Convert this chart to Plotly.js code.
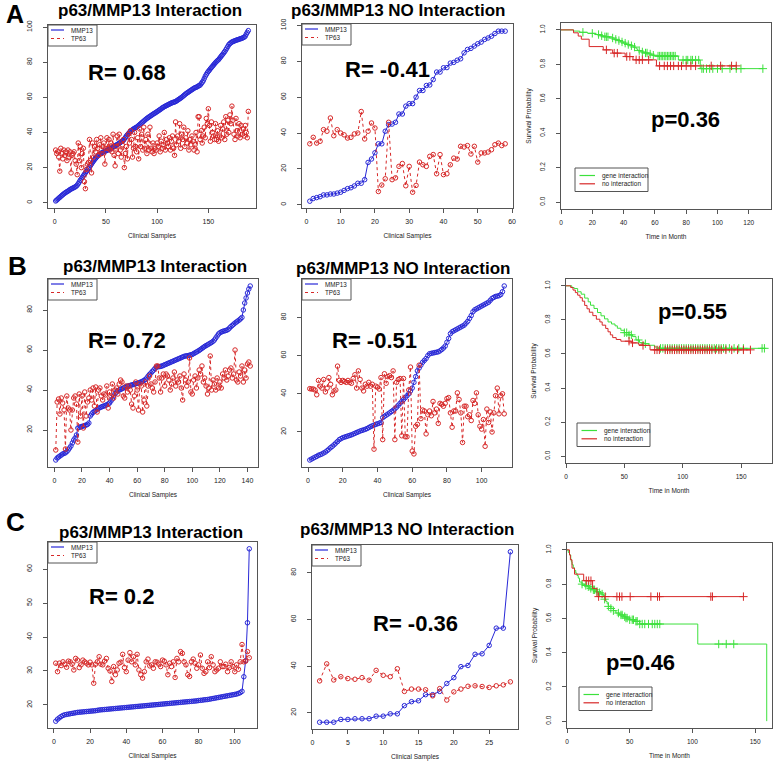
<!DOCTYPE html>
<html><head><meta charset="utf-8">
<script src="https://cdn.plot.ly/plotly-3.0.1.min.js"></script>
<style>html,body{margin:0;padding:0;background:#fff}#chart{width:778px;height:762px}</style>
</head><body><div id="chart"></div>
<script>
// ---------------- DATA ----------------
// Row A (left): interaction, 189 samples
const a1_mmp13 = [1.0,1.5,2.0,2.6,3.0,3.6,4.1,4.6,5.1,5.5,
5.9,6.3,6.6,7.0,7.5,7.8,8.1,8.4,8.7,9.0,
9.4,10.0,10.8,11.8,12.8,13.6,14.5,15.3,16.2,17.0,
17.8,18.6,19.4,20.3,21.2,22.1,23.0,23.8,24.6,25.3,
26.0,26.6,27.1,27.6,28.0,28.4,28.7,29.0,29.3,29.5,
29.8,30.1,30.4,30.7,31.0,31.3,31.7,32.0,32.4,32.8,
33.1,33.5,33.9,34.3,34.7,35.1,35.5,36.3,37.1,38.0,
38.7,39.4,40.0,40.6,41.1,41.6,42.0,42.4,42.7,43.0,
43.5,44.0,44.5,45.0,45.5,46.0,46.5,47.0,47.5,48.0,
48.4,48.8,49.2,49.6,50.0,50.4,50.8,51.1,51.5,51.9,
52.3,52.7,53.1,53.5,54.0,54.3,54.7,55.0,55.3,55.6,
55.9,56.2,56.5,56.8,57.0,57.2,57.4,57.6,58.0,58.4,
58.8,59.2,59.6,60.0,60.5,61.0,61.5,62.0,62.4,62.8,
63.2,63.6,64.0,64.4,64.8,65.2,65.5,65.7,66.0,66.4,
66.7,67.0,67.8,68.6,69.4,70.7,72.0,73.0,74.0,74.8,
75.5,76.3,77.0,77.7,78.4,79.1,79.8,80.4,81.0,81.5,
82.3,83.0,83.8,84.5,85.3,86.1,87.0,88.0,89.0,90.0,
90.6,91.1,91.5,91.8,92.0,92.3,92.5,92.7,92.9,93.1,
93.3,93.5,93.7,94.0,94.3,94.8,96.0,97.0,98.0];
const a1_tp63 = [30,28,29,26,18,31,28,25,30,27,
29,24,30,26,29,17,27,28,29,24,
22,16,34,24,32,20,28,31,12,8,
19,22,23,36,24,17,34,26,32,29,
36,31,27,33,37,28,32,34,22,31,
37,31,36,30,34,29,39,27,21,32,
38,28,39,30,26,33,36,20,28,32,
25,39,34,41,36,26,31,40,32,29,
37,25,42,32,39,30,43,31,36,28,
39,30,43,31,29,34,28,31,30,34,
32,38,29,35,31,33,40,30,36,34,
32,37,30,35,38,31,27,46,33,38,
35,45,31,39,36,43,32,37,34,41,
30,36,33,38,35,30,33,40,29,49,
49,36,41,34,38,43,37,48,45,53.5,
44,35,46,40,38,36,45,36,41,35,
38,44,37,42,46,36,49,39,47,40,
50,45,55,47,39,36,48,41,38,45,
37,44,39,42,38,44,40,37,52];
// Row A (middle): no interaction, 58 samples
const a2_mmp13 = [2,3.5,4,4.5,5.5,5.5,6,6,6.5,7,
8,9,9.5,10.5,12,12,14,23.6,25.5,29,
34,34,41,44.7,45,46,50.6,50.6,55,56.4,
56.4,60,63.7,63.7,66.5,66.8,69.8,74,74,76.4,
76.5,79,79.4,80.6,81.4,84.7,86.6,87.2,88.5,89.8,
90.7,92.2,93,94,95.5,96.8,96.8,96.8];
const a2_tp63 = [34,37.6,34.4,35.4,41.9,41,48.4,38.5,41.9,40,
39,37.2,37.6,39.5,40,52,36.7,41,45.6,42.8,
7.4,11,14.5,46,14,15,21.4,23,10.6,21.4,
7,10.8,23.8,22.3,21.4,27,28,17.3,28,16.8,
17.3,22.3,26,25.5,32.6,32.2,33,28.3,32.6,23.8,
28.9,28.9,29.4,30.7,33.5,34.4,33,34];
// Row B (left): interaction, 142 samples
const b1_mmp13 = [5.0,6.0,6.5,7.0,7.5,8.0,8.3,8.6,9.2,10.0,
11.0,12.0,13.5,15.0,16.0,17.5,21.0,21.3,21.6,21.8,
22.0,22.2,22.5,22.8,23.5,27.0,28.0,28.8,29.3,29.8,
30.3,30.8,31.2,31.5,31.8,32.0,32.3,32.6,33.0,33.5,
34.5,35.5,37.0,38.2,39.0,39.5,40.0,40.3,40.6,41.0,
41.3,41.6,41.9,42.1,42.3,42.5,42.7,42.9,43.1,43.3,
43.5,43.8,44.1,44.4,44.8,45.3,46.0,47.0,47.8,48.5,
49.3,50.0,50.8,51.5,51.6,51.7,51.8,52.0,52.3,52.6,
52.9,53.2,53.5,53.8,54.1,54.4,54.7,55.0,55.3,55.6,
55.9,56.2,56.5,56.8,57.0,57.1,57.2,57.4,57.6,57.8,
58.2,58.6,59.0,59.4,59.8,60.3,60.8,61.3,61.8,62.2,
62.6,63.0,63.4,63.8,64.3,65.0,66.0,67.0,68.0,68.6,
69.0,69.3,69.5,69.7,69.9,70.3,71.0,71.7,72.3,72.9,
73.5,74.0,74.5,75.0,75.6,76.3,80.0,83.5,86.0,88.5,90.5,92.0];
const b1_tp63 = [10,34,35.5,28,36,33.5,30,10.5,37,31,
30,20,30,36,37,33,14,38,27,37,
21,39,27,34,36,40,35,41,32,41.5,
29,40,41,37,35,38,37.5,42,31,39,
37,43,36,40,41,38,43,45,44,37,
36,42,39,42,40,33,31,37,44,40,
30,43,42,29,35,44,32,42,47,43,
41,39,44,52,52,46,39,46,48,42,
48,47,45,40,43,46,49,42,45,44,
47,41,35,48,45,42,44,56,39,38,
45,47,41,46,50,48,52,44,46,42,
38,41,57,40,45,43,40,46,41,44,
41,48,46,50,45,47,50,51,46,48,
60,45,44,49,47,52,44,50,46,53,54,52];
// Row B (middle): no interaction, 113 samples
const b2_mmp13 = [5.3,5.8,6.3,6.8,7.2,7.8,8.1,8.5,9.0,9.5,
10.2,11.0,11.8,12.5,13.3,14.2,15.0,16.0,16.5,17.0,
17.3,17.6,17.9,18.2,18.5,18.9,19.3,19.7,20.1,20.5,
20.8,21.1,21.4,21.8,22.3,22.8,23.2,23.6,24.0,24.3,
24.6,25.0,27.5,28.2,28.8,29.4,30.0,30.7,31.4,32.1,
33.0,34.0,35.0,36.0,37.0,38.0,39.0,40.0,41.5,43.0,
46.0,49.0,52.0,53.5,55.0,56.5,57.5,58.5,60.0,61.0,
61.2,61.4,61.6,61.8,62.0,62.5,63.2,64.0,65.0,67.0,
69.0,71.5,72.5,73.0,73.5,74.0,74.5,75.0,75.5,76.0,
77.0,78.0,79.5,81.0,83.0,84.0,84.5,85.0,85.5,86.0,
86.5,87.0,87.5,88.0,89.0,90.0,90.5,91.0,91.2,91.4,
92.0,93.5,96.5];
const b2_tp63 = [42.7,42.5,42.5,42,39.5,47,44,43,47.5,41,
43,48.5,45,39.5,41.5,42,54.5,47,46,47,
46.5,46,47,46,45.5,48,50,43,52,47.5,
43,41.5,45,44,46,44,45,11,44,43.5,
42.5,48.5,16,50.5,45.5,49,49.5,48.5,52,16,
46,47.5,48,18,48,17.5,17.5,42,54,10,
8.5,23,24,55,27,31.5,31,19,29,31,
28.5,36,30,32,24.5,35,34.5,33.5,35,37.5,
38,30,22.5,31,31,40.5,37,30,14.5,33.5,
33.5,28,29,26,36.5,35,40.5,29,23,21.5,
26.5,12.5,32,25,30.5,20,30,39,43,29.5,
39,40,29.5];
// Row C (left): interaction, 108 samples
const c1_mmp13 = [15.2,15.8,16.2,16.6,16.9,17.1,17.2,17.3,17.4,17.5,
17.6,17.7,17.8,17.85,17.9,17.95,18.0,18.05,18.1,18.15,
18.2,18.25,18.3,18.4,18.5,18.55,18.6,18.65,18.7,18.75,
18.8,18.85,18.9,18.95,19.0,19.05,19.1,19.15,19.2,19.25,
19.3,19.35,19.4,19.45,19.5,19.55,19.6,19.65,19.7,19.75,
19.8,19.85,19.9,19.95,20.0,20.05,20.1,20.15,20.2,20.25,
20.3,20.35,20.4,20.45,20.5,20.55,20.6,20.65,20.7,20.75,
20.8,20.85,20.9,20.95,21.0,21.05,21.1,21.15,21.2,21.3,
21.35,21.4,21.5,21.55,21.6,21.7,21.8,21.9,22.0,22.1,
22.2,22.3,22.4,22.5,22.6,22.7,22.8,22.9,23.0,23.1,
23.2,23.4,23.6,24.0,28.3,33.0,44.2,66.0];
const c1_tp63 = [32.3,29.8,32.3,31.6,32.7,32.0,31.1,32.9,32.7,32.0,
30.3,33.7,33.2,31.0,31.8,33.2,32.7,32.3,31.8,32.6,
31.8,26.4,32.0,32.7,34.2,32.0,31.8,32.9,33.7,30.8,
30.0,26.9,31.3,28.9,30.3,32.3,32.6,34.9,31.0,29.8,
33.2,35.4,32.7,34.2,31.8,34.9,30.3,28.9,27.9,29.8,
32.7,33.5,31.5,31.8,30.8,32.7,32.6,32.0,31.3,33.2,
32.9,31.8,28.9,32.3,31.3,32.7,28.1,33.7,32.7,35.7,
35.2,32.7,31.8,28.9,28.4,32.7,33.5,32.3,30.8,31.8,
34.7,30.8,29.3,29.8,32.7,31.0,34.2,31.8,29.8,30.3,
30.8,32.7,31.3,31.3,32.0,29.8,31.0,32.7,31.3,29.8,
31.8,30.5,32.7,37.8,32.7,32.9,35.7,33.9];
// Row C (middle): no interaction, 28 samples
const c2_mmp13 = [16,16,16,17.2,17.2,17.5,17.5,17.5,18.6,18.6,
19.6,19.6,23.1,24.8,25.2,27.8,27.8,29.2,32.6,35.1,
39.8,40.3,45.1,45.3,48.9,56.3,56.3,89];
const c2_tp63 = [33.7,41,34.1,35.5,34.7,34.4,35.1,34,38.2,36.1,
35.5,38.9,29.2,30.2,30.2,29.9,27.3,30.4,25.5,29,
30.2,31.4,31.6,31.3,30.9,31.6,32,33.3];

// Survival curves (time in months, survival probability at each step)
const kmA_gene_t = [0,8,12,17,22,25,27,31,34,36,38,40,42,44,46,48,49,51,53,56,58,60,75,89,129];
const kmA_gene_s = [1,0.993,0.986,0.980,0.973,0.966,0.960,0.953,0.945,0.938,0.930,0.923,0.915,0.908,0.900,0.890,0.880,0.872,0.866,0.860,0.853,0.848,0.825,0.775,0.775];
const kmA_gene_cens = [14,20,24,26,28,29,30,33,35,37,39,41,43,45,47,50,52,54,55,57,59,62,63,64,65,66,67,68,69,70,71,72,73,78,80,81,83,84,86,88,90,91,93,95,97,100,103,108,112,115,129];
const kmA_no_t = [0,8,11,13,18,27,33,41,46,61,112];
const kmA_no_s = [1,0.983,0.964,0.946,0.903,0.884,0.865,0.845,0.826,0.791,0.791];
const kmA_no_cens = [29,34,36,42,44,48,50,52,56,63,66,68,70,72,75,77,80,83,86,96,102,109,112];

const kmB_gene_t = [0,5,7,10,13,16,19,21,24,27,30,33,36,39,42,44,47,50,54,57,60,63,67,71,76,79,170];
const kmB_gene_s = [1,0.99,0.984,0.965,0.951,0.928,0.906,0.886,0.867,0.843,0.824,0.806,0.788,0.776,0.765,0.751,0.739,0.725,0.712,0.702,0.682,0.667,0.660,0.651,0.641,0.633,0.633];
const kmB_gene_cens = [50,52,54,56,62,68,81,83,85,87,89,91,93,95,97,99,101,103,105,107,109,111,113,115,117,119,121,123,125,127,129,131,133,135,137,140,144,148,152,168,170];
const kmB_no_t = [0,4,6,8,10,12,14,16,18,20,23,26,29,31,34,36,38,40,43,47,56,62,66,72,158];
const kmB_no_s = [1,0.990,0.975,0.960,0.945,0.930,0.910,0.885,0.865,0.845,0.825,0.804,0.788,0.769,0.750,0.730,0.712,0.696,0.685,0.675,0.665,0.657,0.650,0.624,0.624];
const kmB_no_cens = [54,57,66,76,78,80,85,87,89,91,93,95,97,99,101,103,105,107,109,111,113,115,117,119,121,123,125,128,131,133,137,142,147,152,158];

const kmC_gene_t = [0,1,2,3,3.5,4,5,6,7,8,9,10,12,14,16,18,20,23,25,27,29,30,31,32,33,35,37,39,42,45,47,50,54,58,104.3,159.3];
const kmC_gene_s = [1,0.985,0.970,0.945,0.930,0.913,0.895,0.880,0.864,0.850,0.835,0.812,0.800,0.792,0.785,0.775,0.767,0.757,0.750,0.742,0.728,0.712,0.699,0.685,0.670,0.658,0.645,0.631,0.620,0.610,0.602,0.592,0.583,0.567,0.450,0.0];
const kmC_gene_cens = [12,15,17,19,21,22,24,26,28,30,33,35,37,41,43,44,46,47,48,50,52,53,55,56,58,60,62,65,68,70,72,74,121,127,133];
const kmC_no_t = [0,2,2.7,4,6,13.3,20.4,23.9,141];
const kmC_no_s = [1,0.971,0.942,0.893,0.858,0.820,0.775,0.727,0.727];
const kmC_no_cens = [15.4,17.3,19.1,25.2,30.5,39.8,41.9,43.8,50.4,66.9,72.2,73.8,114.7,116,140.7];

// Labels
const seriesNames = ['MMP13','TP63'];
const survNames = ['gene interaction','no interaction'];
const titleInt = 'p63/MMP13 Interaction';
const titleNo = 'p63/MMP13 NO Interaction';
const rLabels = ['R= 0.68','R= -0.41','R= 0.72','R= -0.51','R= 0.2','R= -0.36'];
const pLabels = ['p=0.36','p=0.55','p=0.46'];
const rowLetters = ['A','B','C'];

// ---------------- LAYOUT ----------------
const W = 778, H = 762;
const fx = p => p / W, fy = p => 1 - p / H;
const FONT = 'Liberation Sans, Arial, Helvetica, sans-serif';
const BLUE = 'rgb(40,40,215)', RED = 'rgb(215,40,40)', GREEN = 'rgb(60,225,60)', KMRED = 'rgb(215,40,40)';
const FRAME = '#555';

const panels = [
  {x:[48,256], y:[25,208], xr:[-6.5,196.5], yr:[-3,101.2], xt:[0,50,100,150], yt:[0,20,40,60,80,100], kind:'r'},
  {x:[302,513], y:[24,208], xr:[-1.28,60.28], yr:[-1.8,100.8], xt:[0,10,20,30,40,50,60], yt:[0,20,40,60,80,100], kind:'r'},
  {x:[561,771], y:[23,209], xr:[0,134.2], yr:[-0.04,1.04], xt:[0,20,40,60,80,100,120], yt:[0,0.2,0.4,0.6,0.8,1], kind:'s'},
  {x:[48,258], y:[279,467], xr:[-4.64,147.64], yr:[1.5,95.5], xt:[0,20,40,60,80,100,120,140], yt:[20,40,60,80], kind:'r'},
  {x:[302,512], y:[279,467], xr:[-3.48,117.48], yr:[1.65,100.15], xt:[0,20,40,60,80,100], yt:[20,40,60,80], kind:'r'},
  {x:[566,772], y:[279,463], xr:[0,176.5], yr:[-0.04,1.04], xt:[0,50,100,150], yt:[0,0.2,0.4,0.6,0.8,1], kind:'s'},
  {x:[48,257], y:[542,728], xr:[-3.28,112.28], yr:[13.2,68.0], xt:[0,20,40,60,80,100], yt:[20,30,40,50,60], kind:'r'},
  {x:[312,518], y:[545,729], xr:[-0.08,29.08], yr:[13.1,91.9], xt:[0,5,10,15,20,25], yt:[20,40,60,80], kind:'r'},
  {x:[567,772], y:[543,728], xr:[0,163.5], yr:[-0.04,1.04], xt:[0,50,100,150], yt:[0,0.2,0.4,0.6,0.8,1], kind:'s'}
];

const layout = {
  width: W, height: H, margin:{l:0,r:0,t:0,b:0},
  paper_bgcolor:'#fff', plot_bgcolor:'#fff', showlegend:false,
  font:{family:FONT, color:'#222'},
  annotations:[], shapes:[]
};

panels.forEach((p,i)=>{
  const k = i===0 ? '' : String(i+1);
  const common = {showline:true, mirror:true, linecolor:FRAME, linewidth:1, ticks:'outside', ticklen:4,
    tickwidth:1, tickcolor:FRAME, showgrid:false, zeroline:false, fixedrange:true,
    tickfont:{family:FONT, size:p.kind==='r'?7:6.5, color:'#222'}};
  layout['xaxis'+k] = Object.assign({}, common, {
    domain:[fx(p.x[0]), fx(p.x[1])], range:p.xr, tickmode:'array', tickvals:p.xt, anchor:'y'+k,
    ticklabelstandoff:3,
    title:{text: p.kind==='r' ? 'Clinical Samples' : 'Time in Month', font:{family:FONT,size:6.5,color:'#222'}, standoff:9}
  });
  const ya = Object.assign({}, common, {
    domain:[fy(p.y[1]), fy(p.y[0])], range:p.yr, tickmode:'array', tickvals:p.yt, anchor:'x'+k, tickangle:-90,
    ticklabelstandoff:8
  });
  if (p.kind==='s') {
    ya.ticktext = p.yt.map(v=>v.toFixed(1));
    ya.title = {text:'Survival Probability', font:{family:FONT,size:6.5,color:'#222'}, standoff:7};
  }
  layout['yaxis'+k] = ya;
});

// ---------------- TRACES ----------------
const idx = arr => arr.map((_,i)=>i+1);
const traces = [];
function rPanel(k, mmp, tp){
  traces.push({type:'scatter', mode:'lines+markers', x:idx(mmp), y:mmp, name:seriesNames[0],
    xaxis:'x'+k, yaxis:'y'+k, line:{color:BLUE,width:1},
    marker:{symbol:'circle-open', size:4.5, color:BLUE, line:{width:1,color:BLUE}}, hoverinfo:'skip'});
  traces.push({type:'scatter', mode:'lines+markers', x:idx(tp), y:tp, name:seriesNames[1],
    xaxis:'x'+k, yaxis:'y'+k, line:{color:RED,width:1,dash:'dot'},
    marker:{symbol:'circle-open', size:4.5, color:RED, line:{width:1,color:RED}}, hoverinfo:'skip'});
}
function stepAt(t, s, c){
  let v = s[0];
  for (let i=0;i<t.length;i++){ if (t[i] <= c) v = s[i]; }
  return v;
}
function kmPanel(k, t, s, cens, color, name){
  traces.push({type:'scatter', mode:'lines', x:t, y:s, name:name, xaxis:'x'+k, yaxis:'y'+k,
    line:{color:color,width:1,shape:'hv'}, hoverinfo:'skip'});
  traces.push({type:'scatter', mode:'markers', x:cens, y:cens.map(c=>stepAt(t,s,c)), name:name,
    xaxis:'x'+k, yaxis:'y'+k, marker:{symbol:'cross-thin', size:6, color:color, line:{width:1,color:color}},
    hoverinfo:'skip'});
}
rPanel('', a1_mmp13, a1_tp63);
rPanel('2', a2_mmp13, a2_tp63);
kmPanel('3', kmA_gene_t, kmA_gene_s, kmA_gene_cens, GREEN, survNames[0]);
kmPanel('3', kmA_no_t, kmA_no_s, kmA_no_cens, KMRED, survNames[1]);
rPanel('4', b1_mmp13, b1_tp63);
rPanel('5', b2_mmp13, b2_tp63);
kmPanel('6', kmB_gene_t, kmB_gene_s, kmB_gene_cens, GREEN, survNames[0]);
kmPanel('6', kmB_no_t, kmB_no_s, kmB_no_cens, KMRED, survNames[1]);
rPanel('7', c1_mmp13, c1_tp63);
rPanel('8', c2_mmp13, c2_tp63);
kmPanel('9', kmC_gene_t, kmC_gene_s, kmC_gene_cens, GREEN, survNames[0]);
kmPanel('9', kmC_no_t, kmC_no_s, kmC_no_cens, KMRED, survNames[1]);

// ---------------- TEXT & LEGENDS ----------------
function txt(x,y,text,size,opts){
  layout.annotations.push(Object.assign({xref:'paper',yref:'paper',x:fx(x),y:fy(y),text:text,showarrow:false,
    xanchor:'center',yanchor:'middle',font:{family:FONT,size:size,color:'#000'}}, opts||{}));
}
// row letters
txt(15,14,'<b>'+rowLetters[0]+'</b>',25);
txt(17,266,'<b>'+rowLetters[1]+'</b>',26);
txt(16,522,'<b>'+rowLetters[2]+'</b>',26);
// panel titles
txt(150,10,'<b>'+titleInt+'</b>',17);
txt(398,10,'<b>'+titleNo+'</b>',17);
txt(155,266.5,'<b>'+titleInt+'</b>',17);
txt(403,268,'<b>'+titleNo+'</b>',17);
txt(151,532,'<b>'+titleInt+'</b>',17);
txt(407,529,'<b>'+titleNo+'</b>',17);
// R values
txt(126.5,72,'<b>'+rLabels[0]+'</b>',22);
txt(387.5,70,'<b>'+rLabels[1]+'</b>',22);
txt(127,340,'<b>'+rLabels[2]+'</b>',22);
txt(374,341,'<b>'+rLabels[3]+'</b>',22);
txt(121,596,'<b>'+rLabels[4]+'</b>',22);
txt(416,623,'<b>'+rLabels[5]+'</b>',22);
// p values
txt(685,119,'<b>'+pLabels[0]+'</b>',22);
txt(692,312,'<b>'+pLabels[1]+'</b>',22);
txt(640,662,'<b>'+pLabels[2]+'</b>',22);

function rect(x0,y0,x1,y1){
  layout.shapes.push({type:'rect',xref:'paper',yref:'paper',x0:fx(x0),x1:fx(x1),y0:fy(y1),y1:fy(y0),
    line:{color:FRAME,width:1},fillcolor:'rgba(255,255,255,0)'});
}
function seg(x0,x1,y,color,dash){
  layout.shapes.push({type:'line',xref:'paper',yref:'paper',x0:fx(x0),x1:fx(x1),y0:fy(y),y1:fy(y),
    line:{color:color,width:1.2,dash:dash||'solid'}});
}
function rLegend(x0,y0){
  rect(x0,y0,x0+49,y0+21);
  seg(x0+3,x0+16,y0+5,BLUE);
  seg(x0+3,x0+16,y0+13.5,RED,'dot');
  txt(x0+21,y0+5,seriesNames[0],6.3,{xanchor:'left',font:{family:FONT,size:6.3,color:'#222'}});
  txt(x0+21,y0+13.5,seriesNames[1],6.3,{xanchor:'left',font:{family:FONT,size:6.3,color:'#222'}});
}
function sLegend(x0,y0){
  rect(x0,y0,x0+73,y0+23.5);
  seg(x0+4.5,x0+20,y0+7.5,GREEN);
  seg(x0+4.5,x0+20,y0+15.8,KMRED);
  txt(x0+25,y0+7.5,survNames[0],6.5,{xanchor:'left',font:{family:FONT,size:6.5,color:'#222'}});
  txt(x0+25,y0+15.8,survNames[1],6.5,{xanchor:'left',font:{family:FONT,size:6.5,color:'#222'}});
}
rLegend(48,25); rLegend(302,24);
rLegend(48,279); rLegend(302,279);
rLegend(48,542); rLegend(312,545);
sLegend(575,168); sLegend(577,423); sLegend(579,687);

Plotly.newPlot('chart', traces, layout, {staticPlot:true, displayModeBar:false});
</script></body></html>
